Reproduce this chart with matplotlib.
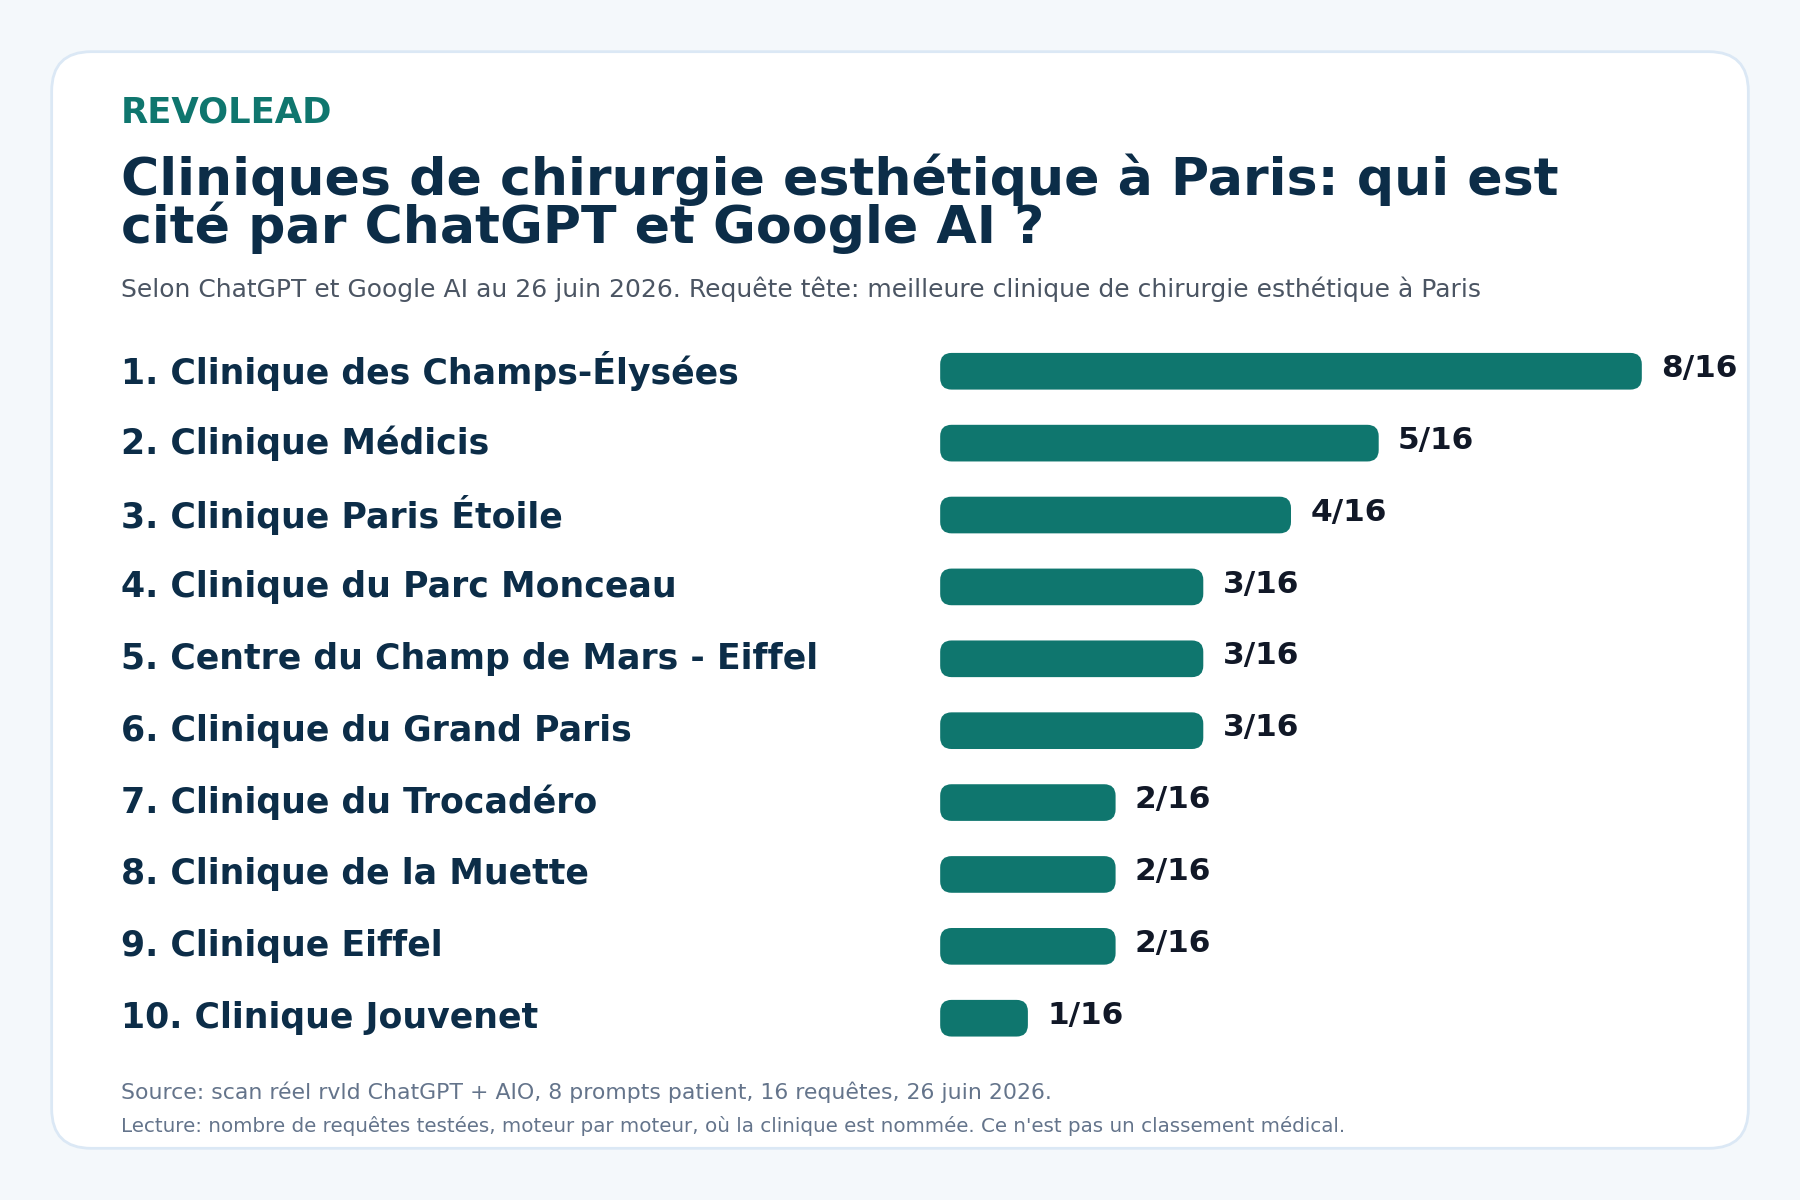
import matplotlib
matplotlib.use("Agg")
import matplotlib.pyplot as plt
from matplotlib.patches import FancyBboxPatch
from matplotlib.transforms import blended_transform_factory

NAVY = "#0c2d48"
TEAL = "#0f766e"
GREY = "#4b5563"
FOOT = "#64748b"

CLINICS = [
    "1. Clinique des Champs-Élysées",
    "2. Clinique Médicis",
    "3. Clinique Paris Étoile",
    "4. Clinique du Parc Monceau",
    "5. Centre du Champ de Mars - Eiffel",
    "6. Clinique du Grand Paris",
    "7. Clinique du Trocadéro",
    "8. Clinique de la Muette",
    "9. Clinique Eiffel",
    "10. Clinique Jouvenet",
]
CITATIONS = [8, 5, 4, 3, 3, 3, 2, 2, 2, 1]
TOTAL = 16

fig = plt.figure(figsize=(18, 12), dpi=100)
fig.patch.set_facecolor("#f4f8fb")

# card
card = FancyBboxPatch((45 / 1568, 1 - 1000 / 1045), (1523 - 45) / 1568, (1000 - 45) / 1045,
                      boxstyle="round,pad=0,rounding_size=0.022", mutation_aspect=1.5,
                      transform=fig.transFigure, facecolor="white", edgecolor="#dbe8f5",
                      linewidth=2, zorder=-5)
fig.patches.append(card)

X0 = 105 / 1568
fig.text(X0, 1 - 107 / 1045, "REVOLEAD", fontsize=25.5, fontweight="bold", color=TEAL, va="baseline")
fig.text(X0, 1 - 170 / 1045, "Cliniques de chirurgie esthétique à Paris: qui est",
         fontsize=37.5, fontweight="bold", color=NAVY, va="baseline")
fig.text(X0, 1 - 212 / 1045, "cité par ChatGPT et Google AI ?",
         fontsize=37.5, fontweight="bold", color=NAVY, va="baseline")
fig.text(X0, 1 - 259 / 1045,
         "Selon ChatGPT et Google AI au 26 juin 2026. Requête tête: meilleure clinique de chirurgie esthétique à Paris",
         fontsize=18, color=GREY, va="baseline")
fig.text(X0, 1 - 957 / 1045,
         "Source: scan réel rvld ChatGPT + AIO, 8 prompts patient, 16 requêtes, 26 juin 2026.",
         fontsize=15.8, color=FOOT, va="baseline")
fig.text(X0, 1 - 986 / 1045,
         "Lecture: nombre de requêtes testées, moteur par moteur, où la clinique est nommée. Ce n'est pas un classement médical.",
         fontsize=14.3, color=FOOT, va="baseline")

# bars axes
ax_l, ax_r = 819 / 1568, 1523 / 1568
ax_top, ax_bot = 292 / 1045, 918 / 1045
ax = fig.add_axes([ax_l, 1 - ax_bot, ax_r - ax_l, ax_bot - ax_top], zorder=2)
ax.set_xlim(0, (1523 - 819) / 76.4)
ax.set_ylim(len(CLINICS) - 0.5, -0.5)
ax.axis("off")

bar_h = 0.51
aspect = 76.4 / 62.7
for i, (name, val) in enumerate(zip(CLINICS, CITATIONS)):
    ax.add_patch(FancyBboxPatch((0, i - bar_h / 2), val, bar_h,
                                boxstyle="round,pad=0,rounding_size=0.13",
                                mutation_aspect=aspect, facecolor=TEAL, edgecolor="none"))
    ax.text(val + 0.22, i - 0.04, f"{val}/{TOTAL}", fontsize=22.5, fontweight="bold",
            color="#111827", va="center", ha="left", clip_on=False)

trans = blended_transform_factory(fig.transFigure, ax.transData)
for i, name in enumerate(CLINICS):
    ax.text(X0, i, name, transform=trans, fontsize=25, fontweight="bold",
            color=NAVY, va="center", ha="left", clip_on=False)

fig.savefig("out.png", dpi=100, facecolor=fig.get_facecolor())
